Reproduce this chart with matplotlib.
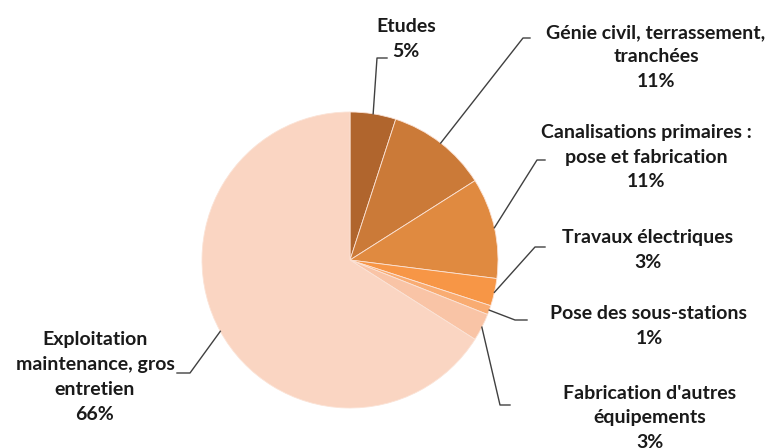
import matplotlib.pyplot as plt
import numpy as np

labels = ['Etudes', 'Génie civil, terrassement,\ntranchées',
          'Canalisations primaires :\npose et fabrication',
          'Travaux électriques', 'Pose des sous-stations',
          "Fabrication d'autres\néquipements",
          'Exploitation\nmaintenance, gros\nentretien']
shares = [5, 11, 11, 3, 1, 3, 66]
colors = ['#B0652D', '#CB7A38', '#E08A40', '#F79646', '#F9AC72', '#F9C4A6', '#FAD5C2']

# layout (pixel coords): label centre, elbow point, end of horizontal tick
label_pos = [(406, 39), (656, 57), (646, 157), (648, 250), (649, 326), (650, 418), (95, 377)]
elbow = [(377, 58), (523, 38), (537, 160), (535, 247), (515, 320), (500, 405), (190, 373)]
tick_end = [(387, 58), (530, 38), (545, 160), (545, 247), (527, 320), (510, 405), (177, 373)]

cx, cy, r = 350, 260, 148

fig = plt.figure(figsize=(7.65, 4.48), dpi=100)
ax = fig.add_axes([0, 0, 1, 1])
wedges, _ = ax.pie(shares, colors=colors, startangle=-90, counterclock=True,
                   center=(cx, cy), radius=r,
                   wedgeprops=dict(edgecolor='#FBE3D6', linewidth=0.6))
ax.set_xlim(0, 765)
ax.set_ylim(448, 0)
ax.axis('off')

for w, lab, s, lp, el, te in zip(wedges, labels, shares, label_pos, elbow, tick_end):
    mid = np.deg2rad((w.theta1 + w.theta2) / 2)
    sx, sy = cx + r * np.cos(mid), cy + r * np.sin(mid)
    ax.plot([sx, el[0], te[0]], [sy, el[1], te[1]], color='#404040', lw=1.0)
    ax.text(lp[0], lp[1], f'{lab}\n{s}%', ha='center', va='center',
            fontsize=14, fontweight='bold', family=['Lato', 'DejaVu Sans'],
            linespacing=1.55, color='#1a1a1a')

fig.savefig('out.png', dpi=100)
